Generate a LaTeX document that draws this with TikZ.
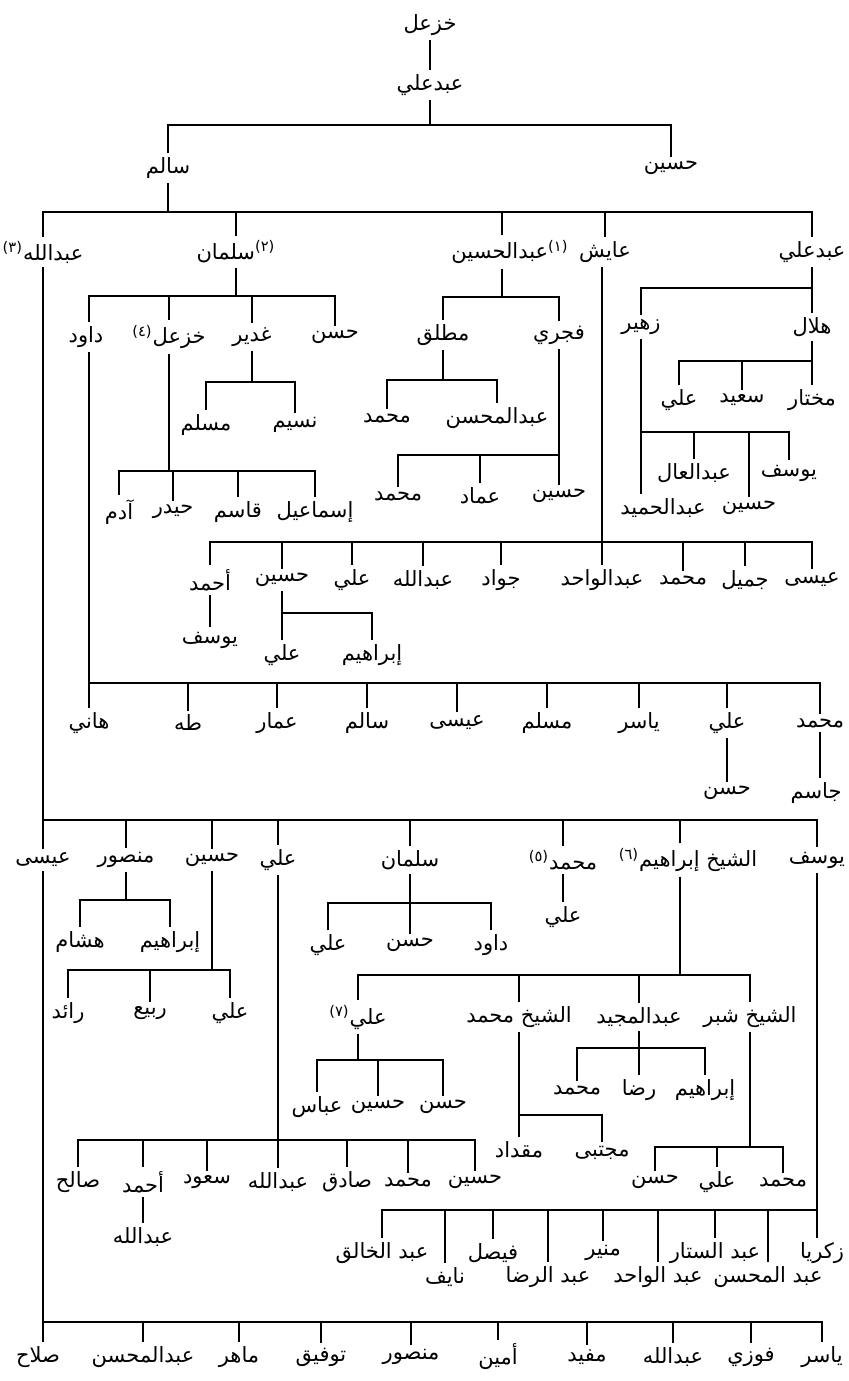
\documentclass[tikz,border=0pt]{standalone}
\usepackage{fontspec}
\newfontfamily\arabicfont[Script=Arabic]{DejaVu Sans}
\TeXXeTstate=1
\tikzset{
  person/.style={font=\arabicfont\fontsize{10.5}{12}\selectfont, inner sep=2pt,
    execute at begin node=\beginR, execute at end node=\endR},
  link/.style={line width=1pt},
}
\begin{document}
\begin{tikzpicture}[x=0.5pt, y=-0.5pt]
  \useasboundingbox (0,0) rectangle (849,1381);
  \coordinate (b1) at (0,125);
  \coordinate (b2) at (0,212);
  \coordinate (b3a) at (0,296);
  \coordinate (b3b) at (0,297);
  \coordinate (b3c) at (0,288);
  \coordinate (b4a) at (0,382);
  \coordinate (b4b) at (0,380);
  \coordinate (b4c) at (0,361);
  \coordinate (b5a) at (0,471);
  \coordinate (b5b) at (0,455);
  \coordinate (b5c) at (0,432);
  \coordinate (b6) at (0,542);
  \coordinate (b7) at (0,613);
  \coordinate (b8) at (0,683);
  \coordinate (b9) at (0,820);
  \coordinate (b10) at (0,900);
  \coordinate (b11) at (0,970);
  \coordinate (b12) at (0,903);
  \coordinate (b13) at (0,975);
  \coordinate (b14) at (0,1060);
  \coordinate (b15) at (0,1140);
  \coordinate (b16) at (0,1115);
  \coordinate (b17) at (0,1048);
  \coordinate (b18) at (0,1147);
  \coordinate (b19) at (0,1210);
  \coordinate (b20) at (0,1322);

  \node[person] (khazal0) at (430,25) {خزعل};
  \node[person] (abdali0) at (430,85) {عبدعلي};
  \node[person] (salem) at (168,168) {سالم};
  \node[person] (husain0) at (671,168) {حسين};

  \node[person] (abdallah) at (43,252) {عبدالله\textsuperscript{(٣)}};
  \node[person] (sulaiman) at (236,252) {\textsuperscript{(٢)}سلمان};
  \node[person] (abdhusain) at (510,252) {\textsuperscript{(١)}عبدالحسين};
  \node[person] (ayish) at (605,252) {عايش};
  \node[person] (abdali) at (812,252) {عبدعلي};

  \node[person] (dawud) at (86,337) {داود};
  \node[person] (khazal) at (169,337) {خزعل\textsuperscript{(٤)}};
  \node[person] (ghadir) at (252,337) {غدير};
  \node[person] (hasan1) at (335,337) {حسن};
  \node[person] (mutlaq) at (443,335) {مطلق};
  \node[person] (fajri) at (559,335) {فجري};
  \node[person] (zuhair) at (641,327) {زهير};
  \node[person] (hilal) at (812,327) {هلال};

  \node[person] (muslim1) at (206,425) {مسلم};
  \node[person] (nasim) at (295,425) {نسيم};
  \node[person] (muhammad1) at (387,418) {محمد};
  \node[person] (abdmuhsin1) at (497,418) {عبدالمحسن};
  \node[person] (ali1) at (679,400) {علي};
  \node[person] (said) at (742,400) {سعيد};
  \node[person] (mukhtar) at (812,400) {مختار};

  \node[person] (adam) at (119,512) {آدم};
  \node[person] (haidar) at (173,512) {حيدر};
  \node[person] (qasim) at (238,512) {قاسم};
  \node[person] (ismail) at (315,512) {إسماعيل};
  \node[person] (muhammad2) at (398,496) {محمد};
  \node[person] (imad) at (480,496) {عماد};
  \node[person] (husain1) at (559,496) {حسين};
  \node[person] (abdhamid) at (663,508) {عبدالحميد};
  \node[person] (abdal) at (694,473) {عبدالعال};
  \node[person] (husain2) at (749,508) {حسين};
  \node[person] (yusuf1) at (789,473) {يوسف};

  \node[person] (ahmad1) at (210,580) {أحمد};
  \node[person] (husain3) at (282,580) {حسين};
  \node[person] (ali2) at (352,580) {علي};
  \node[person] (abdallah1) at (423,580) {عبدالله};
  \node[person] (jawad) at (501,580) {جواد};
  \node[person] (abdwahid1) at (602,580) {عبدالواحد};
  \node[person] (muhammad3) at (683,580) {محمد};
  \node[person] (jamil) at (745,580) {جميل};
  \node[person] (isa1) at (812,580) {عيسى};
  \node[person] (yusuf2) at (210,640) {يوسف};
  \node[person] (ali3) at (282,655) {علي};
  \node[person] (ibrahim1) at (372,655) {إبراهيم};

  \node[person] (hani) at (89,723) {هاني};
  \node[person] (taha) at (188,723) {طه};
  \node[person] (ammar) at (277,723) {عمار};
  \node[person] (salem1) at (367,723) {سالم};
  \node[person] (isa2) at (457,723) {عيسى};
  \node[person] (muslim2) at (547,723) {مسلم};
  \node[person] (yasir1) at (639,723) {ياسر};
  \node[person] (ali4) at (727,723) {علي};
  \node[person] (muhammad4) at (820,723) {محمد};
  \node[person] (hasan2) at (727,793) {حسن};
  \node[person] (jasim) at (816,793) {جاسم};

  \node[person] (isa3) at (43,860) {عيسى};
  \node[person] (mansur) at (126,860) {منصور};
  \node[person] (husain4) at (212,860) {حسين};
  \node[person] (ali5) at (278,860) {علي};
  \node[person] (sulaiman1) at (410,860) {سلمان};
  \node[person] (muhammad5) at (563,860) {محمد\textsuperscript{(٥)}};
  \node[person] (ibrahim2) at (688,860) {الشيخ إبراهيم\textsuperscript{(٦)}};
  \node[person] (yusuf3) at (817,860) {يوسف};

  \node[person] (hisham) at (80,942) {هشام};
  \node[person] (ibrahim3) at (170,942) {إبراهيم};
  \node[person] (raid) at (68,1013) {رائد};
  \node[person] (rabi) at (150,1013) {ربيع};
  \node[person] (ali6) at (230,1013) {علي};
  \node[person] (ali7) at (328,945) {علي};
  \node[person] (hasan3) at (410,945) {حسن};
  \node[person] (dawud1) at (491,945) {داود};
  \node[person] (ali8) at (563,917) {علي};

  \node[person] (ali9) at (358,1017) {علي\textsuperscript{(٧)}};
  \node[person] (shmuhammad) at (519,1017) {الشيخ محمد};
  \node[person] (abdmajid) at (639,1017) {عبدالمجيد};
  \node[person] (shubbar) at (750,1017) {الشيخ شبر};

  \node[person] (abbas) at (317,1107) {عباس};
  \node[person] (husain5) at (378,1107) {حسين};
  \node[person] (hasan4) at (443,1107) {حسن};
  \node[person] (muhammad6) at (577,1090) {محمد};
  \node[person] (rida) at (639,1090) {رضا};
  \node[person] (ibrahim4) at (705,1090) {إبراهيم};
  \node[person] (miqdad) at (519,1150) {مقداد};
  \node[person] (mujtaba) at (602,1153) {مجتبى};

  \node[person] (salih) at (78,1182) {صالح};
  \node[person] (ahmad2) at (143,1182) {أحمد};
  \node[person] (saud) at (207,1182) {سعود};
  \node[person] (abdallah2) at (278,1182) {عبدالله};
  \node[person] (sadiq) at (347,1182) {صادق};
  \node[person] (muhammad8) at (408,1182) {محمد};
  \node[person] (husain6) at (475,1182) {حسين};
  \node[person] (hasan5) at (655,1182) {حسن};
  \node[person] (ali10) at (717,1182) {علي};
  \node[person] (muhammad7) at (783,1182) {محمد};
  \node[person] (abdallah3) at (143,1237) {عبدالله};

  \node[person] (abdkhaliq) at (382,1253) {عبد الخالق};
  \node[person] (nayif) at (445,1277) {نايف};
  \node[person] (faisal) at (493,1253) {فيصل};
  \node[person] (abdrida) at (548,1277) {عبد الرضا};
  \node[person] (munir) at (603,1253) {منير};
  \node[person] (abdwahid2) at (658,1277) {عبد الواحد};
  \node[person] (abdsattar) at (715,1253) {عبد الستار};
  \node[person] (abdmuhsin2) at (768,1277) {عبد المحسن};
  \node[person] (zakariya) at (822,1253) {زكريا};

  \node[person] (salah) at (38,1357) {صلاح};
  \node[person] (abdmuhsin3) at (143,1357) {عبدالمحسن};
  \node[person] (mahir) at (239,1357) {ماهر};
  \node[person] (tawfiq) at (321,1357) {توفيق};
  \node[person] (mansur2) at (411,1357) {منصور};
  \node[person] (amin) at (498,1357) {أمين};
  \node[person] (mufid) at (587,1357) {مفيد};
  \node[person] (abdallah4) at (673,1357) {عبدالله};
  \node[person] (fawzi) at (751,1357) {فوزي};
  \node[person] (yasir2) at (822,1357) {ياسر};

  \draw[link] (khazal0) -- (abdali0);
  \draw[link] (abdali0) -- (abdali0 |- b1);
  \draw[link] (salem) |- (b1 -| husain0) -- (husain0);

  \draw[link] (salem) -- (salem |- b2);
  \draw[link] (abdallah) |- (b2 -| abdali) -- (abdali);
  \foreach \n in {sulaiman,ayish} \draw[link] (\n) -- (\n |- b2);
  \draw[link] ([xshift=-4pt]abdhusain.north) -- ([xshift=-4pt]abdhusain.north |- b2);

  \draw[link] (sulaiman) -- (sulaiman |- b3a);
  \draw[link] ([xshift=1.5pt]dawud.north) |- (b3a -| hasan1) -- (hasan1);
  \foreach \n in {khazal,ghadir} \draw[link] (\n) -- (\n |- b3a);
  \draw[link] ([xshift=-4pt]abdhusain.south) -- ([xshift=-4pt]abdhusain.south |- b3b);
  \draw[link] (mutlaq) |- (b3b -| fajri) -- (fajri);
  \draw[link] (abdali) -- (abdali |- b3c);
  \draw[link] (zuhair) |- (b3c -| hilal) -- (hilal);

  \draw[link] (ghadir) -- (ghadir |- b4a);
  \draw[link] (muslim1) |- (b4a -| nasim) -- (nasim);
  \draw[link] (mutlaq) -- (mutlaq |- b4b);
  \draw[link] (muhammad1) |- (b4b -| abdmuhsin1) -- (abdmuhsin1);
  \draw[link] (hilal) -- (mukhtar);
  \draw[link] (ali1) |- (b4c -| hilal);
  \draw[link] (said) -- (said |- b4c);

  \draw[link] (khazal) -- (khazal |- b5a);
  \draw[link] (adam) |- (b5a -| ismail) -- (ismail);
  \foreach \n in {haidar,qasim} \draw[link] (\n) -- (\n |- b5a);
  \draw[link] (fajri) -- (husain1);
  \draw[link] (muhammad2) |- (b5b -| fajri);
  \draw[link] (imad) -- (imad |- b5b);
  \draw[link] (zuhair) -- (zuhair |- abdhamid.north);
  \draw[link] (zuhair |- b5c) -| (yusuf1);
  \foreach \n in {abdal,husain2} \draw[link] (\n) -- (\n |- b5c);

  \draw[link] ([xshift=-1.5pt]ayish.south) -- ([xshift=-1.5pt]ayish.south |- b6);
  \draw[link] (abdwahid1) -- (abdwahid1 |- b6);
  \draw[link] (ahmad1) |- (b6 -| isa1) -- (isa1);
  \foreach \n in {husain3,ali2,abdallah1,jawad,muhammad3,jamil} \draw[link] (\n) -- (\n |- b6);
  \draw[link] (ahmad1) -- (yusuf2);
  \draw[link] (husain3) -- (ali3);
  \draw[link] (husain3 |- b7) -| (ibrahim1);

  \draw[link] ([xshift=1.5pt]dawud.south) -- ([xshift=1.5pt]dawud.south |- hani.north);
  \draw[link] (hani |- b8) -| (muhammad4);
  \foreach \n in {taha,ammar,salem1,isa2,muslim2,yasir1,ali4} \draw[link] (\n) -- (\n |- b8);
  \draw[link] (ali4) -- (hasan2);
  \draw[link] (muhammad4) -- (muhammad4 |- jasim.north);

  \draw[link] (abdallah) -- (isa3);
  \draw[link] (abdallah |- b9) -| (yusuf3);
  \foreach \n in {mansur,husain4,ali5,sulaiman1,muhammad5} \draw[link] (\n) -- (\n |- b9);
  \draw[link] ([xshift=-4pt]ibrahim2.north) -- ([xshift=-4pt]ibrahim2.north |- b9);

  \draw[link] (mansur) -- (mansur |- b10);
  \draw[link] (hisham) |- (b10 -| ibrahim3) -- (ibrahim3);
  \draw[link] (husain4) -- (husain4 |- b11);
  \draw[link] (raid) |- (b11 -| ali6) -- (ali6);
  \draw[link] (rabi) -- (rabi |- b11);
  \draw[link] (sulaiman1) -- (hasan3);
  \draw[link] (ali7) |- (b12 -| dawud1) -- (dawud1);
  \draw[link] (muhammad5) -- (ali8);

  \draw[link] ([xshift=-4pt]ibrahim2.south) -- ([xshift=-4pt]ibrahim2.south |- b13);
  \draw[link] (ali9) |- (b13 -| shubbar) -- (shubbar);
  \foreach \n in {shmuhammad,abdmajid} \draw[link] (\n) -- (\n |- b13);

  \draw[link] (ali9) -- (ali9 |- b14);
  \draw[link] (abbas) |- (b14 -| hasan4) -- (hasan4);
  \draw[link] (husain5) -- (husain5 |- b14);
  \draw[link] (shmuhammad) -- (miqdad);
  \draw[link] (shmuhammad |- b16) -| (mujtaba);
  \draw[link] (abdmajid) -- (rida);
  \draw[link] (muhammad6) |- (b17 -| ibrahim4) -- (ibrahim4);
  \draw[link] (shubbar) -- (shubbar |- b18);
  \draw[link] (hasan5) |- (b18 -| muhammad7) -- (muhammad7);
  \draw[link] (ali10) -- (ali10 |- b18);

  \draw[link] (ali5) -- (abdallah2);
  \draw[link] (salih) |- (b15 -| husain6) -- (husain6);
  \foreach \n in {ahmad2,saud,sadiq,muhammad8} \draw[link] (\n) -- (\n |- b15);
  \draw[link] (ahmad2) -- (abdallah3);

  \draw[link] (yusuf3) -- (yusuf3 |- zakariya.north);
  \draw[link] (abdkhaliq) |- (b19 -| yusuf3);
  \foreach \n in {nayif,faisal,abdrida,munir,abdwahid2,abdsattar,abdmuhsin2} \draw[link] (\n) -- (\n |- b19);

  \draw[link] (isa3) -- (isa3 |- salah.north);
  \draw[link] (isa3 |- b20) -| (yasir2);
  \foreach \n in {abdmuhsin3,mahir,tawfiq,mansur2,amin,mufid,abdallah4,fawzi} \draw[link] (\n) -- (\n |- b20);
\end{tikzpicture}
\end{document}
